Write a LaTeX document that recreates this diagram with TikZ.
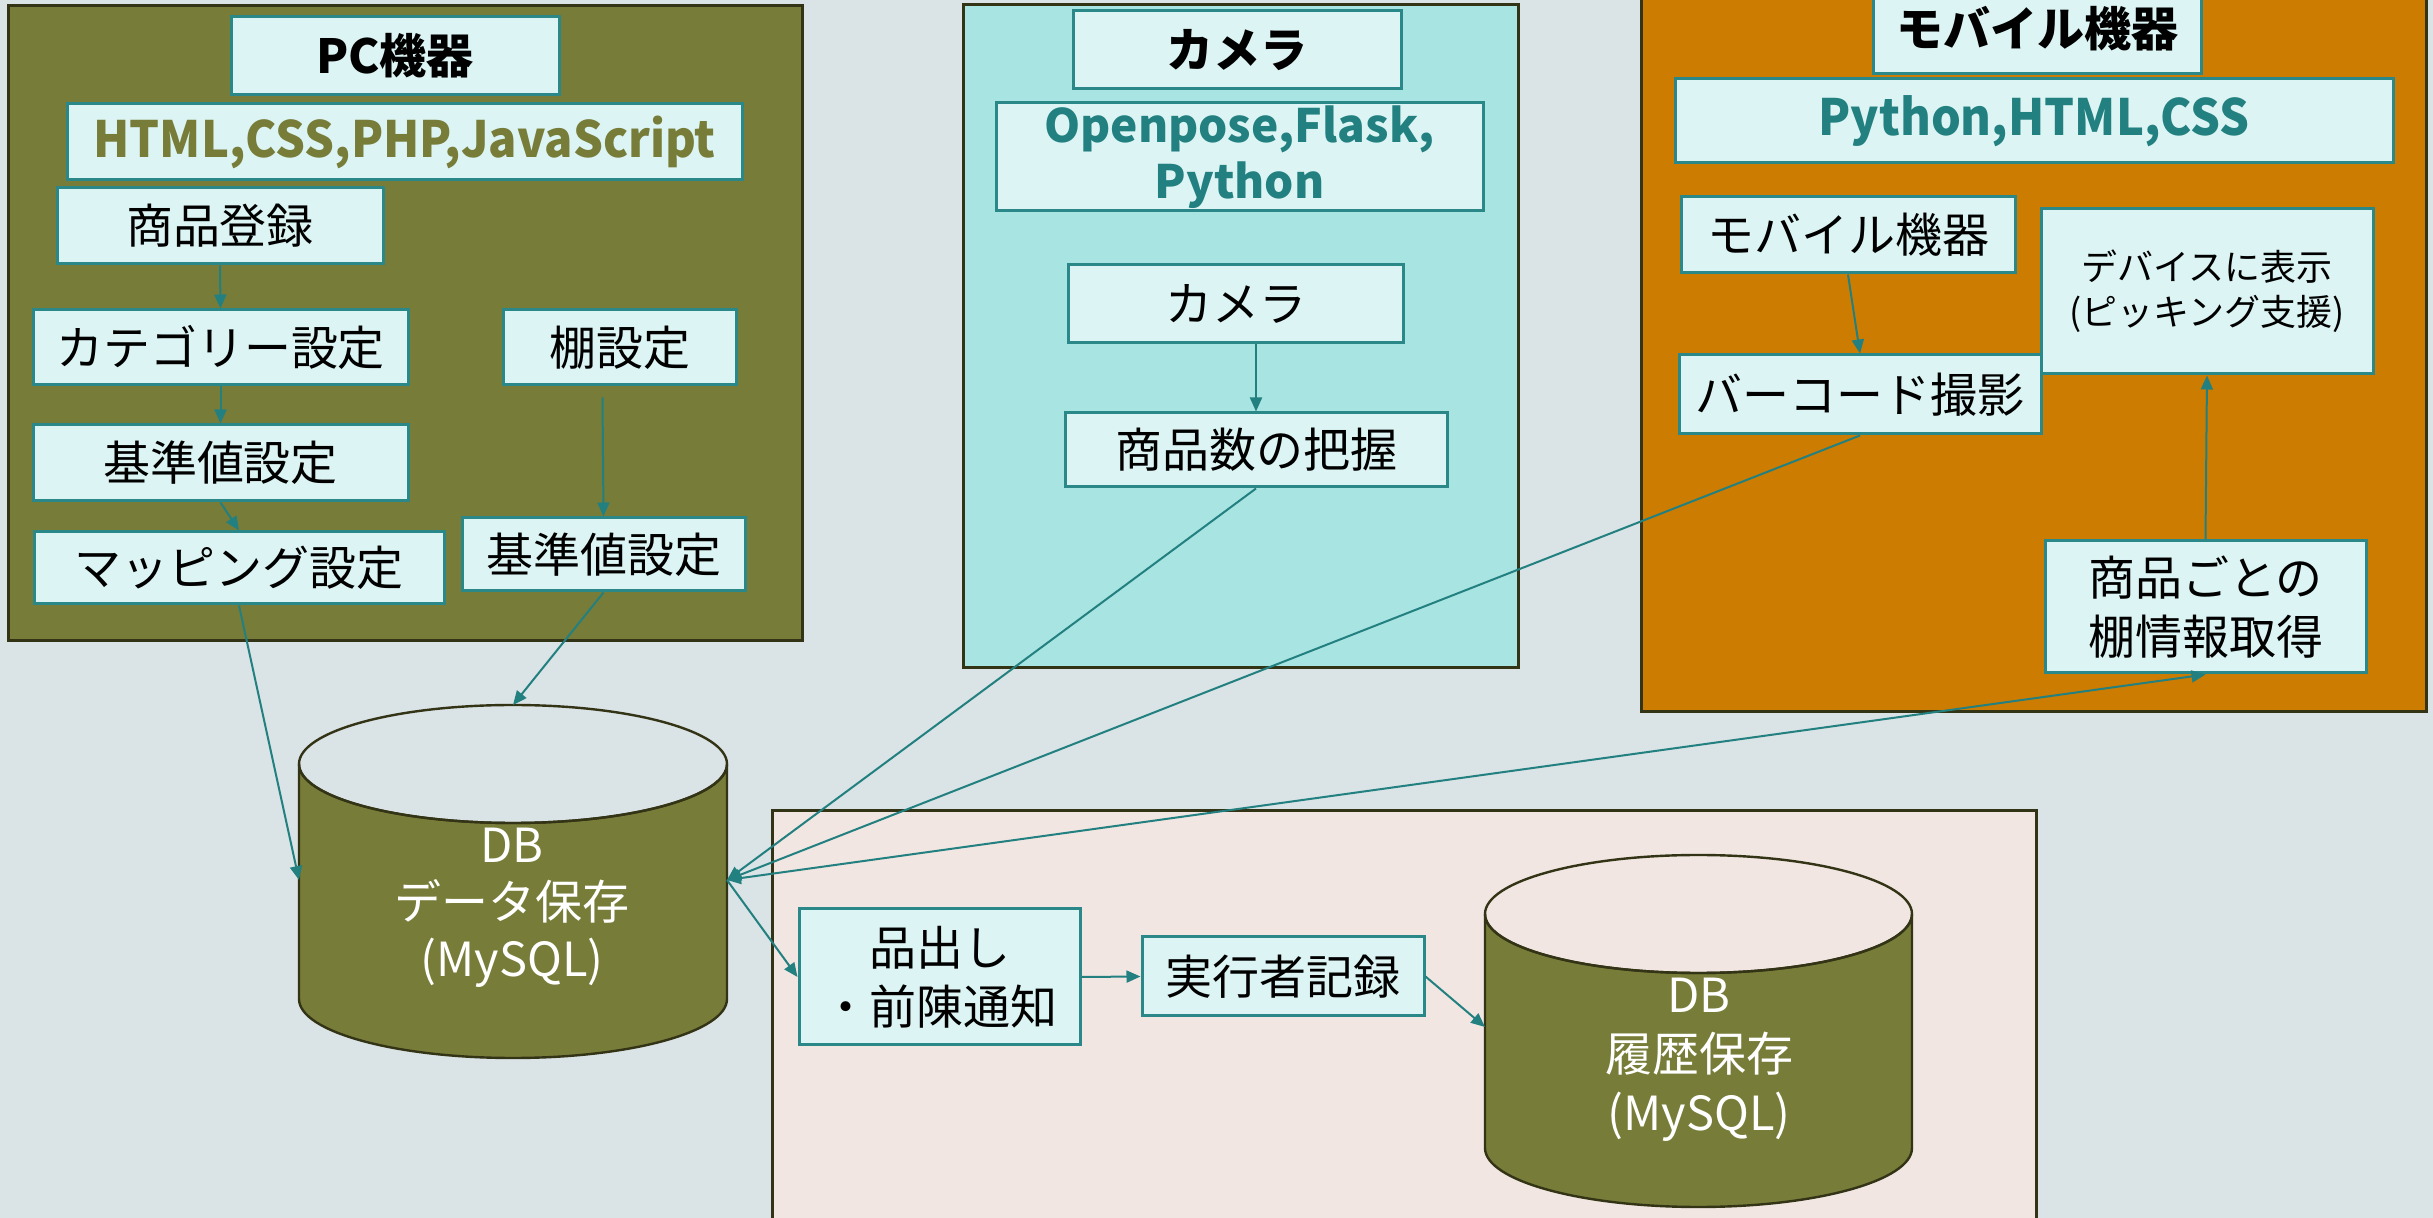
\documentclass[tikz,border=0pt]{standalone}
\usepackage{fontspec}
\setmainfont{Noto Sans CJK JP}
\usetikzlibrary{arrows.meta}
\definecolor{bg}{HTML}{DAE3E5}
\definecolor{olivef}{HTML}{777C38}
\definecolor{darkb}{HTML}{333316}
\definecolor{camf}{HTML}{A8E4E1}
\definecolor{mobf}{HTML}{CC7C00}
\definecolor{botf}{HTML}{F1E6E2}
\definecolor{boxf}{HTML}{DCF5F4}
\definecolor{boxb}{HTML}{2A8888}
\definecolor{tealt}{HTML}{238080}
\begin{document}
\begin{tikzpicture}[x=0.5pt,y=-0.5pt,
  frame/.style={draw=darkb,line width=1.5pt},
  box/.style={draw=boxb,fill=boxf,line width=1.5pt,inner sep=0pt,align=center,
    font=\fontsize{23.5}{29.5}\selectfont},
  title/.style={box,font=\fontsize{23.5}{28}\selectfont\bfseries},
  lang/.style={box,font=\fontsize{25}{28}\selectfont\bfseries},
  arr/.style={draw=tealt,line width=1pt,-{Triangle[length=7pt,width=6pt]}},
  dbtext/.style={text=white,align=center,inner sep=0pt,font=\fontsize{23.5}{28.5}\selectfont},
  cyl/.style={fill=olivef,draw=darkb,line width=1.2pt}]
\useasboundingbox (0,0) rectangle (2433,1218);
\clip (0,0) rectangle (2433,1218);
\fill[bg] (0,0) rectangle (2433,1218);
% frames
\path[frame,fill=olivef] (8,6) rectangle (802,641);
\path[frame,fill=camf] (963,5) rectangle (1518,668);
\path[frame,fill=mobf] (1641,-5) rectangle (2426,712);
\path[frame,fill=botf] (772,811) rectangle (2036,1240);
% PC
\node[title,minimum width=164pt,minimum height=39pt] (pct) at (395,56) {PC機器};
\node[lang,text=olivef,minimum width=337.5pt,minimum height=38pt] (pcl) at (404.5,142) {\scalebox{0.94}[1]{HTML,CSS,PHP,JavaScript}};
\node[box,minimum width=163pt,minimum height=38pt] (reg) at (220,226) {商品登録};
\node[box,minimum width=187.5pt,minimum height=37.5pt] (cat) at (220.5,347.5) {カテゴリー設定};
\node[box,minimum width=116.5pt,minimum height=37.5pt] (shelf) at (619.5,347.5) {棚設定};
\node[box,minimum width=187.5pt,minimum height=38pt] (std1) at (220.5,463) {基準値設定};
\node[box,minimum width=205pt,minimum height=36pt] (map) at (239,568) {マッピング設定};
\node[box,minimum width=141.5pt,minimum height=36.5pt] (std2) at (603.5,554.5) {基準値設定};
% camera
\node[title,minimum width=164pt,minimum height=39pt] (camt) at (1237,50) {カメラ};
\node[box,text=tealt,font=\fontsize{23}{28}\selectfont\bfseries,minimum width=243.5pt,minimum height=54pt] (caml) at (1239.5,157) {Openpose,Flask,\\Python};
\node[box,minimum width=167.5pt,minimum height=39pt] (cam) at (1235.5,304) {カメラ};
\node[box,minimum width=191pt,minimum height=37pt] (count) at (1256,450) {商品数の把握};
% mobile
\node[title,minimum width=164pt,minimum height=45pt] (mobt) at (2037,29) {モバイル機器};
\node[lang,text=tealt,minimum width=359pt,minimum height=42pt] (mobl) at (2034,121) {\scalebox{0.94}[1]{Python,HTML,CSS}};
\node[box,minimum width=167pt,minimum height=38pt] (mobdev) at (1848,235) {モバイル機器};
\node[box,font=\fontsize{18}{22.5}\selectfont,minimum width=166pt,minimum height=82.5pt] (disp) at (2207,291.5) {デバイスに表示\\(ピッキング支援)};
\node[box,minimum width=181pt,minimum height=39.5pt] (bar) at (1860,394.5) {バーコード撮影};
\node[box,minimum width=160.5pt,minimum height=66pt] (sinfo) at (2205.5,607) {商品ごとの\\棚情報取得};
% bottom
\node[box,minimum width=140.5pt,minimum height=68pt] (pick) at (939.5,977) {品出し\\・前陳通知};
\node[box,minimum width=141pt,minimum height=39.5pt] (exec) at (1283,976.5) {実行者記録};
% DB1
\path[cyl] (299,764) -- (299,999) arc[start angle=180,end angle=360,x radius=107pt,y radius=29.5pt] -- (727,764)
  arc[start angle=0,end angle=-180,x radius=107pt,y radius=29.5pt] -- cycle;
\draw[darkb,line width=1.2pt] (513,764) ellipse[x radius=107pt,y radius=29.5pt];
\node[dbtext] (db1t) at (512,908) {DB\\データ保存\\(MySQL)};
\coordinate (db1l) at (299,880);
\coordinate (db1r) at (727,880);
\coordinate (db1top) at (513,705);
% DB2
\path[cyl] (1485,914) -- (1485,1148) arc[start angle=180,end angle=360,x radius=106.75pt,y radius=29.5pt] -- (1912,914)
  arc[start angle=0,end angle=-180,x radius=106.75pt,y radius=29.5pt] -- cycle;
\draw[darkb,line width=1.2pt] (1698.5,914) ellipse[x radius=106.75pt,y radius=29.5pt];
\node[dbtext,font=\fontsize{23.5}{29.5}\selectfont] (db2t) at (1699,1060) {DB\\履歴保存\\(MySQL)};
\coordinate (db2l) at (1485,1027);
% arrows
\draw[arr] (reg.south) -- (cat.north);
\draw[arr] (cat.south) -- (std1.north);
\draw[arr] (std1.south) -- (map.north);
\draw[arr] ([shift={(-8.5pt,-5.5pt)}]shelf.south) -- (std2.north);
\draw[arr] (map.south) -- (db1l);
\draw[arr] (std2.south) -- (db1top);
\draw[arr] (cam.south -| count.north) -- (count.north);
\draw[arr] (count.south) -- (db1r);
\draw[arr] (bar.south) -- (db1r);
\draw[arr,{Triangle[length=7pt,width=6pt]}-{Triangle[length=7pt,width=6pt]}] (db1r) -- (sinfo.south);
\draw[arr] (mobdev.south) -- (bar.north);
\draw[arr] (sinfo.north) -- (disp.south);
\draw[arr] (db1r) -- (pick.west);
\draw[arr] (pick.east) -- (exec.west);
\draw[arr] (exec.east) -- (db2l);
\end{tikzpicture}
\end{document}
